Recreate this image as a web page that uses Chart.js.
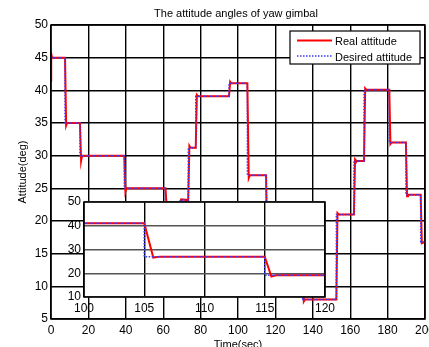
<!DOCTYPE html>
<html>
<head>
<meta charset="utf-8">
<script src="https://cdn.jsdelivr.net/npm/chart.js@4.4.1/dist/chart.umd.min.js"></script>
<style>
  body { margin: 0; background: #fff; }
  #wrap { position: relative; width: 429px; height: 347px; }
  #wrap canvas { position: absolute; left: 0; top: 0; }
</style>
</head>
<body>
<div id="wrap">
  <canvas id="mainChart" width="429" height="347"></canvas>
  <canvas id="zoomChart" width="429" height="347"></canvas>
</div>
<script>
// desired (reference) attitude: switch times and the level held from each time on
const desiredTime = [0, 7.5, 15.5, 39.2, 61.2, 69, 73.4, 77.4, 95.2, 105, 115, 134.6, 152.6, 162, 167.4, 180.9, 189.8, 197.7, 200];
const desiredValue = [45, 35, 30, 25, 22.5, 23.2, 31.2, 39.1, 41.1, 27, 19.2, 8, 21, 29.2, 40.1, 32, 24, 16.8, 16.8];

// real attitude, read point by point (small ramps / undershoots at each switch)
const realTime = [0, 0.1, 0.6, 7.5, 8.1, 8.6, 15.5, 16.1, 16.6, 39.2, 39.8, 40.3, 61.2, 61.8, 69, 69.6,
  73.4, 74, 74.6, 77.4, 78, 78.6, 95.2, 95.8, 96.3, 105, 105.75, 106.3, 115, 115.55, 116,
  134.6, 135.2, 135.8, 152.6, 153.2, 153.8, 162, 162.6, 163.1, 167.4, 168, 168.6,
  180.9, 181.5, 182, 189.8, 190.4, 190.9, 197.7, 198.3, 200];
const realValue = [41.5, 45.6, 45, 45, 34.6, 35, 35, 29.2, 30, 30, 24.5, 25, 25, 22.5, 22.5, 23.3,
  23.2, 31.5, 31.2, 31.2, 39.3, 39.1, 39.1, 41.3, 41.1, 41.1, 26.6, 27, 27, 18.6, 19.2,
  19.2, 7.7, 8, 8, 21.2, 21, 21, 29.4, 29.2, 29.2, 40.3, 40.1, 40.1,
  31.8, 32, 32, 23.8, 24, 24, 16.6, 16.8];

const seriesNames = ['Real attitude', 'Desired attitude'];
const chartTitle = 'The attitude angles of yaw gimbal';

const FONT = "'Liberation Sans', Arial, sans-serif";
const RED = '#ff0000';
const BLUE = '#3a3aff';

function toPoints(xs, ys) {
    return xs.map((x, i) => ({ x: x, y: ys[i] }));
}

function makeDatasets() {
    return [
        {
            label: seriesNames[1],
            data: toPoints(desiredTime, desiredValue),
            stepped: true,
            borderColor: BLUE,
            borderWidth: 1.5,
            borderDash: [1.5, 1.5],
            pointRadius: 0,
            order: 0
        },
        {
            label: seriesNames[0],
            data: toPoints(realTime, realValue),
            borderColor: RED,
            borderWidth: 2,
            pointRadius: 0,
            order: 1
        }
    ];
}

function noSidePadding(scale) {
    scale.paddingLeft = 0;
    scale.paddingRight = 0;
}

const framePlugin = {
    id: 'frame',
    beforeDraw(chart) {
        const a = chart.chartArea;
        const ctx = chart.ctx;
        ctx.save();
        ctx.fillStyle = '#fff';
        ctx.fillRect(a.left, a.top, a.right - a.left, a.bottom - a.top);
        ctx.restore();
    },
    afterDraw(chart) {
        const a = chart.chartArea;
        const ctx = chart.ctx;
        ctx.save();
        ctx.strokeStyle = '#000';
        ctx.lineWidth = 1.5;
        ctx.strokeRect(a.left, a.top, a.right - a.left, a.bottom - a.top);
        ctx.restore();
    }
};

const titleLegendPlugin = {
    id: 'titleLegend',
    afterDraw(chart) {
        const a = chart.chartArea;
        const ctx = chart.ctx;
        ctx.save();
        ctx.fillStyle = '#000';
        ctx.font = '11px ' + FONT;
        ctx.textAlign = 'center';
        ctx.textBaseline = 'middle';
        ctx.fillText(chartTitle, (a.left + a.right) / 2 - 2, 14);

        // legend box (top right, inside the plot)
        const bx = a.right - 135, by = a.top + 6, bw = 130, bh = 33;
        ctx.fillStyle = '#fff';
        ctx.fillRect(bx, by, bw, bh);
        ctx.strokeStyle = '#000';
        ctx.lineWidth = 1.2;
        ctx.strokeRect(bx, by, bw, bh);

        ctx.lineWidth = 2;
        ctx.strokeStyle = RED;
        ctx.beginPath();
        ctx.moveTo(bx + 7, by + 9.5);
        ctx.lineTo(bx + 42, by + 9.5);
        ctx.stroke();

        ctx.lineWidth = 1.5;
        ctx.strokeStyle = BLUE;
        ctx.setLineDash([1.5, 1.5]);
        ctx.beginPath();
        ctx.moveTo(bx + 7, by + 25);
        ctx.lineTo(bx + 42, by + 25);
        ctx.stroke();
        ctx.setLineDash([]);

        ctx.fillStyle = '#000';
        ctx.textAlign = 'left';
        ctx.fillText(seriesNames[0], bx + 45, by + 10.5);
        ctx.fillText(seriesNames[1], bx + 45, by + 26.5);
        ctx.restore();
    }
};

new Chart(document.getElementById('mainChart'), {
    type: 'line',
    data: { datasets: makeDatasets() },
    options: {
        responsive: false,
        animation: false,
        devicePixelRatio: 1,
        layout: { padding: { top: 25, right: 4, left: 0, bottom: 0 } },
        plugins: { legend: { display: false }, tooltip: { enabled: false } },
        scales: {
            x: {
                type: 'linear',
                min: 0,
                max: 200,
                afterFit(scale) { scale.height = 28; noSidePadding(scale); },
                ticks: { stepSize: 20, maxRotation: 0, color: '#000', padding: 4, font: { family: FONT, size: 12 } },
                grid: { color: '#000', lineWidth: 1.4, drawTicks: false },
                border: { display: false },
                title: { display: true, text: 'Time(sec)', color: '#000', font: { family: FONT, size: 11 }, padding: { top: 0, bottom: -5 } }
            },
            y: {
                min: 5,
                max: 50,
                afterFit(scale) { scale.width = 51; },
                ticks: { stepSize: 5, color: '#000', padding: 3, font: { family: FONT, size: 12 } },
                grid: { color: '#000', lineWidth: 1.4, drawTicks: false },
                border: { display: false },
                title: { display: true, text: 'Attitude(deg)', color: '#000', font: { family: FONT, size: 11 }, padding: { top: 16, bottom: 0 } }
            }
        }
    },
    plugins: [framePlugin, titleLegendPlugin]
});

// zoomed inset 100..120 s
new Chart(document.getElementById('zoomChart'), {
    type: 'line',
    data: { datasets: makeDatasets() },
    options: {
        responsive: false,
        animation: false,
        devicePixelRatio: 1,
        layout: { padding: { top: 202, right: 104, left: 0, bottom: 0 } },
        plugins: { legend: { display: false }, tooltip: { enabled: false } },
        scales: {
            x: {
                type: 'linear',
                min: 100,
                max: 120,
                afterFit(scale) { scale.height = 50; noSidePadding(scale); },
                ticks: { stepSize: 5, maxRotation: 0, color: '#000', padding: 4, font: { family: FONT, size: 12 } },
                grid: { color: '#000', lineWidth: 1.4, drawTicks: false },
                border: { display: false }
            },
            y: {
                min: 10,
                max: 50,
                afterFit(scale) { scale.width = 84; },
                ticks: { stepSize: 10, color: '#000', padding: 3, font: { family: FONT, size: 12 } },
                grid: { color: '#555', lineWidth: 1.5, drawTicks: false },
                border: { display: false }
            }
        }
    },
    plugins: [framePlugin]
});
</script>
</body>
</html>
